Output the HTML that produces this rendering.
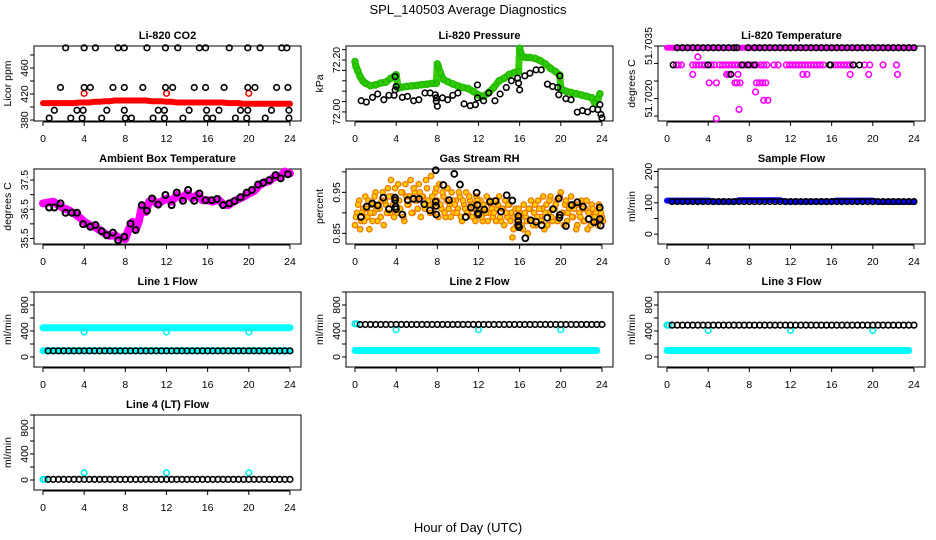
<!DOCTYPE html>
<html><head><meta charset="utf-8"><style>
html,body{margin:0;padding:0;background:#fff;}
svg{display:block;font-family:"Liberation Sans",sans-serif;}
</style></head><body>
<svg id="chart" width="936" height="540" viewBox="0 0 936 540" xmlns="http://www.w3.org/2000/svg">
<rect width="936" height="540" fill="#fff"/>
<text x="468" y="14" text-anchor="middle" font-size="13">SPL_140503  Average Diagnostics</text>
<text x="468" y="532" text-anchor="middle" font-size="13">Hour of Day (UTC)</text>
</svg>
<script>
// ---- CO2 ----
const co2RedVals=[406,406,406,406,406,406,406,407,407,407,408,408,409,409,410,410,410,410,410,410,410,409,409,409,408,408,407,407,407,407,407,407,407,407,407,407,406,406,406,405,405,405,405,405,405,405,405,405,405];
const co2RedOutHours=[4,12,20];
const co2RedOutVals=[421,421,421];
const co2BlackHours=[2.2,4.0,5.1,7.3,7.9,10.1,11.9,13.1,15.2,15.8,18.1,19.9,21.1,23.2,23.7,
1.7,4.0,4.6,6.8,7.9,9.7,11.9,12.6,14.7,15.8,17.6,19.9,20.6,22.7,23.8,
1.1,3.3,3.9,6.2,7.9,11.2,11.8,14.2,15.9,17.1,19.2,19.9,22.2,23.9,
0.6,2.7,3.8,5.7,8.0,8.6,10.7,11.8,13.6,15.9,16.5,18.7,19.8,21.6,23.9];
const co2BlackVals=[491,491,491,491,491,491,491,491,491,491,491,491,491,491,491,
430,430,430,430,430,430,430,430,430,430,430,430,430,430,430,
395,395,395,395,395,395,395,395,395,395,395,395,395,395,
383,383,383,383,383,383,383,383,383,383,383,383,383,383,383];
// ---- Pressure ----
const presGreenHours=[0,0.1,0.25,0.5,0.75,1,1.5,2,2.5,3,3.5,3.9,4.0,4.2,4.5,5,5.5,6,6.5,7,7.5,7.9,8.0,8.1,8.3,8.6,9,9.5,10,10.5,11,11.5,12,12.5,13,13.5,14,14.5,15,15.5,15.9,16.0,16.1,16.3,16.6,17,17.5,18,18.5,19,19.5,19.9,20.0,20.2,20.5,21,21.5,22,22.5,23,23.3,23.6,23.8];
const presGreenVals=[72.194,72.175,72.160,72.136,72.120,72.111,72.101,72.104,72.111,72.115,72.130,72.140,72.143,72.092,72.095,72.098,72.100,72.102,72.105,72.107,72.110,72.110,72.185,72.175,72.150,72.125,72.117,72.108,72.100,72.094,72.090,72.079,72.065,72.060,72.075,72.095,72.120,72.130,72.145,72.152,72.155,72.245,72.230,72.213,72.210,72.210,72.206,72.198,72.185,72.168,72.155,72.142,72.090,72.085,72.080,72.075,72.070,72.065,72.060,72.055,72.034,72.050,72.070];
const presBlackHours=[0.6,1.1,1.7,2.2,2.8,3.3,3.8,3.9,4.0,3.9,4.6,5.1,5.7,6.2,6.8,7.3,7.8,7.9,7.9,8.0,8.5,9.0,9.5,10.0,10.6,11.2,11.7,11.9,11.9,12.5,13.0,13.6,14.1,14.7,15.2,15.8,15.9,16.0,16.5,17.0,17.6,18.1,18.7,19.2,19.7,19.8,19.9,20.5,21.0,21.6,22.1,22.6,23.1,23.6,23.8,23.9,24.0];
const presBlackVals=[72.043,72.038,72.056,72.069,72.047,72.064,72.064,72.085,72.098,72.136,72.056,72.060,72.043,72.047,72.073,72.073,72.066,72.054,72.041,72.022,72.054,72.047,72.064,72.073,72.031,72.024,72.028,72.104,72.054,72.043,72.073,72.043,72.069,72.094,72.120,72.130,72.111,72.085,72.139,72.149,72.162,72.162,72.107,72.098,72.094,72.066,72.139,72.051,72.047,71.999,72.005,72.000,72.011,72.009,72.028,71.990,71.977];
// ---- Li-820 Temperature ----
const tempBandVals=[51.70345,51.70345,51.70345,51.70345,51.70345,51.70345,51.70345,51.70345,51.70345,51.70345,51.70345,51.70345,51.70345,51.70345,51.70345,51.70345,51.70345,51.70345,51.70345,51.70345,51.70345,51.70345,51.70345,51.70345,51.70345,51.70345,51.70345,51.70345,51.70345,51.70345,51.70345,51.70345,51.70345,51.70345,51.70345,51.70345,51.70345,51.70345,51.70345,51.70345,51.70345,51.70345,51.70345,51.70345,51.70345,51.70345,51.70345,51.70345,51.70345];
const tempMagHours=[0.9,1.1,1.4,2.5,2.8,3.1,3.4,3.7,4.3,4.6,5.1,5.4,5.7,6.0,6.3,6.6,6.9,7.2,7.5,7.8,8.1,8.4,8.7,9.1,9.4,9.7,10.4,10.8,11.6,11.9,12.2,12.5,12.8,13.1,13.4,13.7,14.0,14.3,14.6,14.9,15.2,16.3,16.6,16.9,17.2,17.5,17.8,18.1,19.2,19.7,21.0,22.3,
2.5,5.8,6.0,6.9,13.2,13.6,17.8,19.6,22.4,
4.1,4.8,6.6,6.8,7.1,8.7,9.0,9.3,9.6,
8.6,9.4,9.8,7.0,4.8,3.0];
const tempMagVals=[51.70296,51.70296,51.70296,51.70296,51.70296,51.70296,51.70296,51.70296,51.70296,51.70296,51.70296,51.70296,51.70296,51.70296,51.70296,51.70296,51.70296,51.70296,51.70296,51.70296,51.70296,51.70296,51.70296,51.70296,51.70296,51.70296,51.70296,51.70296,51.70296,51.70296,51.70296,51.70296,51.70296,51.70296,51.70296,51.70296,51.70296,51.70296,51.70296,51.70296,51.70296,51.70296,51.70296,51.70296,51.70296,51.70296,51.70296,51.70296,51.70296,51.70296,51.70296,51.70296,
51.70269,51.70269,51.70269,51.70269,51.70269,51.70269,51.70269,51.70269,51.70269,
51.70245,51.70245,51.70245,51.70245,51.70245,51.70245,51.70245,51.70245,51.70245,
51.70219,51.70195,51.70195,51.70169,51.70143,51.70319];
const tempBlackHours=[1,1.5,2,2.5,3,3.5,4,4.5,5,5.5,6,6.5,6.8,7.9,8.5,9,9.5,10,10.5,11,11.5,12,12.5,13,13.5,14,14.5,15,15.5,16,16.5,17,17.5,18,18.5,19,19.5,20,20.5,21,21.5,22,22.5,23,23.5,24,
0.6,4.0,7.3,7.9,8.5,15.8,15.9,18.1,18.7,6.2];
const tempBlackVals=[51.70345,51.70345,51.70345,51.70345,51.70345,51.70345,51.70345,51.70345,51.70345,51.70345,51.70345,51.70345,51.70345,51.70345,51.70345,51.70345,51.70345,51.70345,51.70345,51.70345,51.70345,51.70345,51.70345,51.70345,51.70345,51.70345,51.70345,51.70345,51.70345,51.70345,51.70345,51.70345,51.70345,51.70345,51.70345,51.70345,51.70345,51.70345,51.70345,51.70345,51.70345,51.70345,51.70345,51.70345,51.70345,51.70345,
51.70296,51.70296,51.70296,51.70296,51.70296,51.70296,51.70296,51.70296,51.70296,51.70269];
// ---- Ambient Box Temperature ----
const ambMagHours=[0,0.5,1,1.5,2,2.5,3,3.5,4,4.5,5,5.5,6,6.5,7,7.5,8,8.3,8.7,9,9.3,9.6,10,10.3,10.7,11,11.5,12,12.5,13,13.5,14,14.5,15,15.5,16,16.5,17,17.5,18,18.5,19,19.5,20,20.5,21,21.5,22,22.5,23,23.5,24];
const ambMagVals=[36.70,36.73,36.76,36.64,36.53,36.47,36.36,36.24,36.07,35.96,35.90,35.79,35.67,35.59,35.61,35.50,35.48,35.79,36.07,35.79,36.07,36.59,36.41,36.76,36.81,36.70,36.76,36.87,36.76,36.99,36.87,37.04,36.87,36.99,36.81,36.81,36.76,36.85,36.67,36.64,36.76,36.85,36.93,37.04,37.12,37.31,37.42,37.47,37.61,37.61,37.79,37.73];
const ambBlackHours=[0.6,1.1,1.7,2.2,2.8,3.3,3.9,4.6,5.1,5.7,6.2,6.8,7.3,7.9,8.5,9.0,9.6,10.1,10.6,11.2,11.9,12.5,13.0,13.6,14.1,14.7,15.2,15.8,16.4,16.9,17.5,18.1,18.6,19.2,19.8,20.3,20.9,21.4,22.0,22.6,23.1,23.8];
const ambBlackVals=[36.56,36.56,36.70,36.38,36.38,36.38,35.99,35.90,35.96,35.75,35.61,35.70,35.44,35.56,36.01,35.79,36.64,36.45,36.87,36.66,36.99,36.64,37.07,36.79,37.16,36.79,37.04,36.81,36.81,36.85,36.64,36.70,36.78,36.91,37.07,37.16,37.35,37.41,37.50,37.67,37.56,37.70];
// ---- Gas Stream RH ----
const rhOrangeA=[0.87,0.90,0.93,0.88,0.91,0.94,0.89,0.86,0.92,0.90,0.95,0.88,0.91,0.93,0.87,0.92,0.96,0.90,0.94,0.89,0.93,0.97,0.91,0.95,0.88,0.94,0.92,0.98,0.90,0.95,0.93,0.97,0.89,0.94,0.91,0.96,0.92,0.99,0.90,0.95,0.93,0.97,0.91,0.94,0.89,0.96,0.92,0.95,0.90,0.93,0.91,0.94,0.88,0.92,0.95,0.90,0.93,0.89,0.92,0.94,0.90,0.93,0.88,0.91,0.94,0.90,0.92,0.89,0.93,0.91,0.94,0.88,0.91,0.93,0.89,0.92,0.90,0.86,0.91,0.88,0.90,0.87,0.92,0.89,0.85,0.91,0.88,0.90,0.87,0.93,0.89,0.91,0.86,0.92,0.90,0.94,0.88,0.91,0.93,0.89,0.95,0.90,0.92,0.88,0.91,0.94,0.89,0.92,0.87,0.90,0.93,0.88,0.91,0.86,0.90,0.92,0.88,0.90,0.87,0.91,0.89];
const rhOrangeB=[0.89,0.92,0.86,0.90,0.88,0.91,0.93,0.90,0.88,0.94,0.91,0.92,0.89,0.95,0.93,0.90,0.94,0.98,0.92,0.96,0.90,0.93,0.95,0.89,0.97,0.92,0.94,0.90,0.96,0.93,0.91,0.95,0.94,0.92,0.98,0.93,0.90,0.94,0.92,0.96,0.89,0.92,0.95,0.90,0.93,0.91,0.89,0.93,0.92,0.90,0.95,0.89,0.93,0.91,0.90,0.94,0.92,0.91,0.88,0.93,0.91,0.89,0.92,0.90,0.88,0.93,0.91,0.90,0.88,0.92,0.89,0.91,0.87,0.90,0.92,0.88,0.84,0.89,0.87,0.91,0.89,0.86,0.90,0.88,0.91,0.93,0.87,0.92,0.89,0.91,0.88,0.94,0.90,0.87,0.93,0.89,0.91,0.92,0.88,0.94,0.90,0.87,0.93,0.90,0.92,0.89,0.91,0.86,0.92,0.89,0.91,0.88,0.93,0.90,0.87,0.91,0.89,0.88,0.92,0.90,0.88];
const rhBlackHours=[0.58,1.13,1.68,2.2,2.75,3.3,3.89,3.89,3.95,3.98,4.6,5.12,5.67,6.22,6.74,7.29,7.84,7.87,7.9,7.84,8.58,9.14,9.65,10.2,10.76,11.27,11.82,11.89,11.92,11.98,12.57,13.12,13.67,14.19,14.74,15.29,15.87,15.87,15.87,15.94,16.55,17.07,17.59,18.14,18.69,19.24,19.8,19.86,19.9,20.5,21.06,21.6,22.16,22.71,23.23,23.78,23.8,23.87];
const rhBlackVals=[0.890,0.915,0.923,0.918,0.937,0.909,0.937,0.931,0.915,0.909,0.896,0.931,0.934,0.934,0.921,0.906,0.927,0.917,0.896,1.004,0.968,0.931,0.995,0.969,0.890,0.913,0.949,0.919,0.899,0.896,0.908,0.927,0.929,0.903,0.943,0.930,0.892,0.880,0.870,0.865,0.838,0.882,0.878,0.870,0.888,0.909,0.935,0.888,0.895,0.868,0.919,0.926,0.915,0.885,0.877,0.913,0.885,0.869];
// ---- Sample Flow ----
const sampBlueVals=[107,107,107,107,107,107,107,107,107,104,104,104,104,104,108,108,108,108,108,108,108,108,108,104,104,104,104,104,104,104,104,104,104,107,107,107,107,107,107,107,107,103,103,103,103,103,103,103,103];
const sampBlackVals=[104,104,104,104,104,104,104,104,104,104,104,104,104,104,104,104,104,104,104,104,104,104,104,104,104,104,104,104,104,104,104,104,104,104,104,104,104,104,104,104,104,104,104,104,104,104,104,104];
// ---- Line flows ----
const flowOutHours=[4,12,20];
const line1CyanHigh=[450,450,450,450,450,450,450,450,450,450,450,450,450,450,450,450,450,450,450,450,450,450,450,450,450,450,450,450,450,450,450,450,450,450,450,450,450,450,450,450,450,450,450,450,450,450,450,450,450];
const line1CyanLow=[95,95,95,95,95,95,95,95,95,95,95,95,95,95,95,95,95,95,95,95,95,95,95,95,95,95,95,95,95,95,95,95,95,95,95,95,95,95,95,95,95,95,95,95,95,95,95,95,95];
const line1Black=[95,95,95,95,95,95,95,95,95,95,95,95,95,95,95,95,95,95,95,95,95,95,95,95,95,95,95,95,95,95,95,95,95,95,95,95,95,95,95,95,95,95,95,95,95,95,95,95];
const line1Out=[385,385,385];
const line2CyanLow=[100,100,100,100,100,100,100,100,100,100,100,100,100,100,100,100,100,100,100,100,100,100,100,100,100,100,100,100,100,100,100,100,100,100,100,100,100,100,100,100,100,100,100,100,100,100,100,100];
const line2Black=[500,500,500,500,500,500,500,500,500,500,500,500,500,500,500,500,500,500,500,500,500,500,500,500,500,500,500,500,500,500,500,500,500,500,500,500,500,500,500,500,500,500,500,500,500,500,500,500];
const line2Out=[420,420,420];
const line3CyanLow=[100,100,100,100,100,100,100,100,100,100,100,100,100,100,100,100,100,100,100,100,100,100,100,100,100,100,100,100,100,100,100,100,100,100,100,100,100,100,100,100,100,100,100,100,100,100,100,100];
const line3Black=[490,490,490,490,490,490,490,490,490,490,490,490,490,490,490,490,490,490,490,490,490,490,490,490,490,490,490,490,490,490,490,490,490,490,490,490,490,490,490,490,490,490,490,490,490,490,490,490];
const line3Out=[410,410,410];
const line4Black=[10,10,10,10,10,10,10,10,10,10,10,10,10,10,10,10,10,10,10,10,10,10,10,10,10,10,10,10,10,10,10,10,10,10,10,10,10,10,10,10,10,10,10,10,10,10,10,10];
const line4Out=[110,110,110];
// ---- Axis ticks ----
const hourTicks=[0,4,8,12,16,20,24];
const co2Ticks=[380,400,420,440,460,480];
const co2Labels=["380","","420","","460",""];
const presTicks=[72.00,72.04,72.08,72.12,72.16,72.20,72.24];
const presLabels=["72.00","","","","","72.20",""];
const tempTicks=[51.7035,51.7030,51.7025,51.7020,51.7015];
const tempLabels=["51.7035","","","51.7020",""];
const ambTicks=[35.5,36,36.5,37,37.5];
const ambLabels=["35.5","","36.5","","37.5"];
const rhTicks=[0.85,0.90,0.95,1.00];
const rhLabels=["0.85","","0.95",""];
const sampTicks=[0,50,100,150,200];
const sampLabels=["0","","100","","200"];
const flowTicks=[0,200,400,600,800,1000];
const flowLabels=["0","","400","","800",""];

const NS="http://www.w3.org/2000/svg";
const svg=document.getElementById('chart');
function mk(tag,attrs,parent){const e=document.createElementNS(NS,tag);for(const k in attrs)e.setAttribute(k,attrs[k]);(parent||svg).appendChild(e);return e;}
function makePanel(col,row,ymin,ymax,name){
  const L=34+312*col,R=301+312*col,T=46+123*row,B=121+123*row;
  const g=mk('g',{});
  
  
  return {g,L,R,T,B,x:h=>43+312*col+h*10.29,y:v=>B-(v-ymin)/(ymax-ymin)*(B-T)};
}
function frame(p,title,ytitle,ticks,labels){
  const f=mk('rect',{x:p.L,y:p.T,width:p.R-p.L,height:p.B-p.T,fill:'none',stroke:'#000','stroke-width':1},p.g);
  
  
  const t=mk('text',{x:(p.L+p.R)/2,y:p.T-7,'text-anchor':'middle','font-size':11,'font-weight':'bold'},p.g);
  t.textContent=title;
  
  
  const yt=mk('text',{transform:`translate(${p.L-23},${(p.T+p.B)/2}) rotate(-90)`,'text-anchor':'middle','font-size':10.5},p.g);
  yt.textContent=ytitle;
  
  
  mk('line',{x1:p.x(0),x2:p.x(24),y1:p.B+1,y2:p.B+1,stroke:'#000'},p.g);
  hourTicks.forEach(h=>{
    mk('line',{x1:p.x(h),x2:p.x(h),y1:p.B+1,y2:p.B+5,stroke:'#000'},p.g);
    const lb=mk('text',{x:p.x(h),y:p.B+21,'text-anchor':'middle','font-size':10.5},p.g);
    lb.textContent=h;
    
    
  });
  ticks.forEach((v,i)=>{
    const yy=p.y(v);
    mk('line',{x1:p.L-4,x2:p.L,y1:yy,y2:yy,stroke:'#000'},p.g);
    if(labels[i]){
      const lb=mk('text',{transform:`translate(${p.L-6},${yy}) rotate(-90)`,'text-anchor':'middle','font-size':10.5},p.g);
      lb.textContent=labels[i];
      
      
    }
  });
}
function pts(p,hours,vals,color,name,opt){
  opt=opt||{};
  const g=mk('g',{},p.g);
  
  
  for(let i=0;i<vals.length;i++){
    const c=mk('circle',{cx:p.x(hours[i]),cy:p.y(vals[i]),r:opt.r||2.8,fill:opt.fill||'none',stroke:color,'stroke-width':opt.sw||1.6},g);
    
    
  }
}
function band(p,hours,vals,color,name,w){
  let d='';
  for(let i=0;i<vals.length;i++)d+=(i?'L':'M')+p.x(hours[i]).toFixed(1)+','+p.y(vals[i]).toFixed(1);
  const path=mk('path',{d,fill:'none',stroke:color,'stroke-width':w||7,'stroke-linejoin':'round','stroke-linecap':'round'},p.g);
  
  
}
const stepHours=(n,start,step)=>Array.from({length:n},(_,i)=>start+i*step);

let p=makePanel(0,0,378.5,493.8,'co2');
frame(p,'Li-820 CO2','Licor ppm',co2Ticks,co2Labels);
band(p,stepHours(co2RedVals.length,0,0.5),co2RedVals,'#ff0000','co2-red-series',6);
pts(p,co2RedOutHours,co2RedOutVals,'#ff0000','co2-red-outliers');
pts(p,co2BlackHours,co2BlackVals,'#000','co2-black-series');

p=makePanel(1,0,71.965,72.254,'pressure');
frame(p,'Li-820 Pressure','kPa',presTicks,presLabels);
band(p,presGreenHours,presGreenVals,'#33cc00','pressure-green-series',7);
pts(p,presGreenHours,presGreenVals,'#22bb00','pressure-green-points',{r:3});
pts(p,presBlackHours,presBlackVals,'#000','pressure-black-series');

p=makePanel(2,0,51.70136,51.7035,'li820-temp');
frame(p,'Li-820 Temperature','degrees C',tempTicks,tempLabels);
band(p,stepHours(tempBandVals.length,0,0.5),tempBandVals,'#ff00ff','temp-magenta-band',6);
pts(p,tempMagHours,tempMagVals,'#ff00ff','temp-magenta-series');
pts(p,tempBlackHours,tempBlackVals,'#000','temp-black-series');

p=makePanel(0,1,35.31,37.88,'ambient-temp');
frame(p,'Ambient Box Temperature','degrees C',ambTicks,ambLabels);
band(p,ambMagHours,ambMagVals,'#ff00ff','ambient-magenta-series',8);
pts(p,ambBlackHours,ambBlackVals,'#000','ambient-black-series',{r:3,sw:2});

p=makePanel(1,1,0.824,1.007,'gas-rh');
frame(p,'Gas Stream RH','percent',rhTicks,rhLabels);
pts(p,stepHours(rhOrangeA.length,0,0.2),rhOrangeA,'#ee7700','rh-orange-a',{r:2.7,fill:'#ffcc00',sw:1.3});
pts(p,stepHours(rhOrangeB.length,0.1,0.2),rhOrangeB,'#ee7700','rh-orange-b',{r:2.7,fill:'#ffcc00',sw:1.3});
pts(p,rhBlackHours,rhBlackVals,'#000','rh-black-series',{r:3,sw:1.8});

p=makePanel(2,1,-31.5,208,'sample-flow');
frame(p,'Sample Flow','ml/min',sampTicks,sampLabels);
band(p,stepHours(sampBlueVals.length,0,0.5),sampBlueVals,'#0000ff','sample-blue-series',6);
pts(p,stepHours(sampBlackVals.length,0.5,0.5),sampBlackVals,'#000','sample-black-series');

p=makePanel(0,2,-154,1000,'line1-flow');
frame(p,'Line 1 Flow','ml/min',flowTicks,flowLabels);
band(p,stepHours(line1CyanHigh.length,0,0.5),line1CyanHigh,'#00ffff','line1-cyan-high',7);
band(p,stepHours(line1CyanLow.length,0,0.5),line1CyanLow,'#00ffff','line1-cyan-low',7);
pts(p,flowOutHours,line1Out,'#00eeee','line1-outliers');
pts(p,stepHours(line1Black.length,0.5,0.5),line1Black,'#000','line1-black-series');

p=makePanel(1,2,-154,1000,'line2-flow');
frame(p,'Line 2 Flow','ml/min',flowTicks,flowLabels);
band(p,stepHours(line2CyanLow.length,0,0.5),line2CyanLow,'#00ffff','line2-cyan-low',7);
pts(p,[0,0.2],[510,510],'#00eeee','line2-cyan-high');
pts(p,flowOutHours,line2Out,'#00eeee','line2-outliers');
pts(p,stepHours(line2Black.length,0.5,0.5),line2Black,'#000','line2-black-series');

p=makePanel(2,2,-154,1000,'line3-flow');
frame(p,'Line 3 Flow','ml/min',flowTicks,flowLabels);
band(p,stepHours(line3CyanLow.length,0,0.5),line3CyanLow,'#00ffff','line3-cyan-low',7);
pts(p,[0,0.2],[490,490],'#00eeee','line3-cyan-high');
pts(p,flowOutHours,line3Out,'#00eeee','line3-outliers');
pts(p,stepHours(line3Black.length,0.5,0.5),line3Black,'#000','line3-black-series');

p=makePanel(0,3,-154,1000,'line4-flow');
frame(p,'Line 4 (LT) Flow','ml/min',flowTicks,flowLabels);
pts(p,[0,0.2],[10,10],'#00eeee','line4-cyan-start');
pts(p,flowOutHours,line4Out,'#00eeee','line4-outliers');
pts(p,stepHours(line4Black.length,0.5,0.5),line4Black,'#000','line4-black-series');
</script>
</body></html>
